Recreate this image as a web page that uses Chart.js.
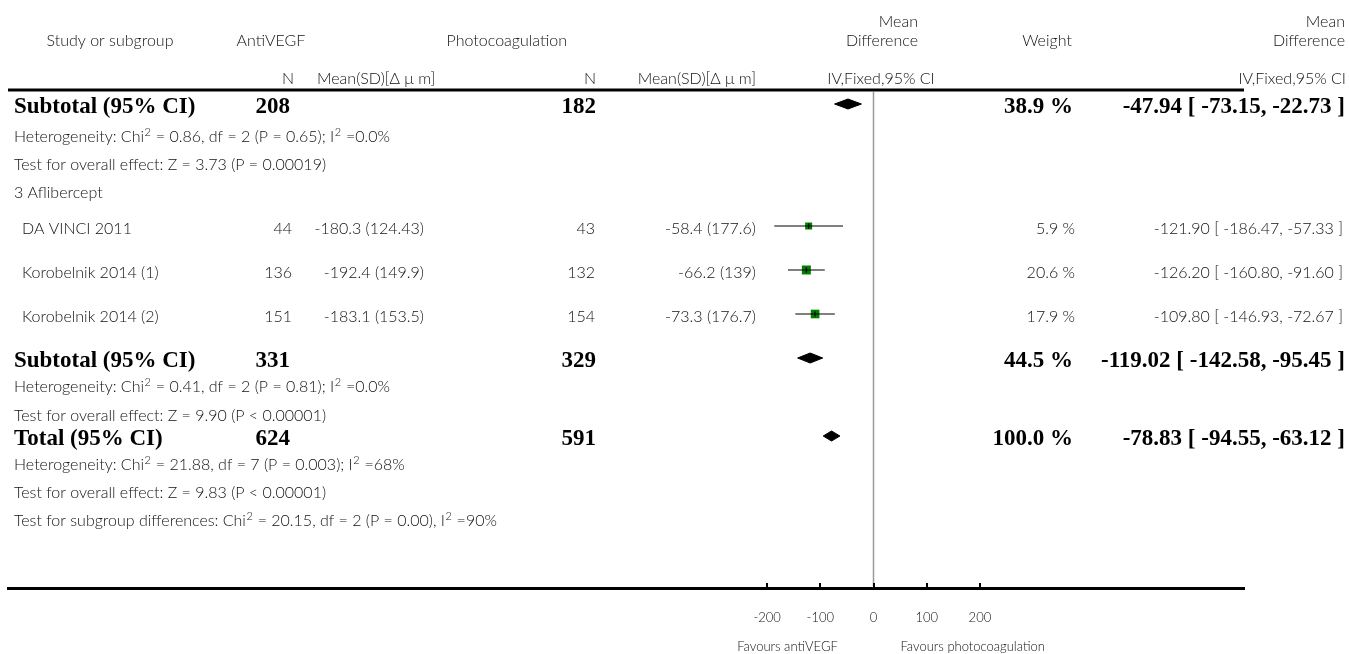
<!DOCTYPE html>
<html>
<head>
<meta charset="utf-8">
<script src="https://cdn.jsdelivr.net/npm/chart.js@4"></script>
<style>
  html, body { margin: 0; padding: 0; background: #fff; }
  canvas { display: block; }
</style>
</head>
<body>
<canvas id="forest" width="1349" height="654"></canvas>
<script>
// ---------- data ----------
const studyNames   = ['DA VINCI 2011', 'Korobelnik 2014 (1)', 'Korobelnik 2014 (2)'];
const antiN        = [44, 136, 151];
const antiMean     = [-180.3, -192.4, -183.1];
const antiSD       = [124.43, 149.9, 153.5];
const photoN       = [43, 132, 154];
const photoMean    = [-58.4, -66.2, -73.3];
const photoSD      = [177.6, 139, 176.7];
const studyWeight  = [5.9, 20.6, 17.9];
const studyMD      = [-121.90, -126.20, -109.80];
const studyLow     = [-186.47, -160.80, -146.93];
const studyHigh    = [-57.33, -91.60, -72.67];

const summaryLabels = ['Subtotal (95% CI)', 'Subtotal (95% CI)', 'Total (95% CI)'];
const summaryAntiN  = [208, 331, 624];
const summaryPhotoN = [182, 329, 591];
const summaryWeight = [38.9, 44.5, 100.0];
const summaryMD     = [-47.94, -119.02, -78.83];
const summaryLow    = [-73.15, -142.58, -94.55];
const summaryHigh   = [-22.73, -95.45, -63.12];

// "^2" marks a superscript two
const noteLines = [
  'Heterogeneity: Chi^2 = 0.86, df = 2 (P = 0.65); I^2 =0.0%',
  'Test for overall effect: Z = 3.73 (P = 0.00019)',
  '3 Aflibercept',
  'Heterogeneity: Chi^2 = 0.41, df = 2 (P = 0.81); I^2 =0.0%',
  'Test for overall effect: Z = 9.90 (P < 0.00001)',
  'Heterogeneity: Chi^2 = 21.88, df = 7 (P = 0.003); I^2 =68%',
  'Test for overall effect: Z = 9.83 (P < 0.00001)',
  'Test for subgroup differences: Chi^2 = 20.15, df = 2 (P = 0.00), I^2 =90%'
];
const axisTicks = [-200, -100, 0, 100, 200];
const favourLabels = ['Favours antiVEGF', 'Favours photocoagulation'];

// ---------- layout ----------
const AREA = { left: 8, right: 1244, top: 90, bottom: 588 };
const ZERO_PX = 873.5;          // where 0 sits on the x axis
const PX_PER_UNIT = 0.532;      // axis scale
const X_MIN = (AREA.left - ZERO_PX) / PX_PER_UNIT;
const X_MAX = (AREA.right - ZERO_PX) / PX_PER_UNIT;
const Y_SPAN = AREA.bottom - AREA.top;   // y unit = one pixel below the top rule

// row slots (units below the top rule)
const summaryRows = [14, 268, 346];
const studyRows   = [136, 180, 224];
const noteRows    = [47, 75, 103, 297, 326, 375, 403, 431];
const DIAMOND_HALF = 5;

const SANS = '300 16px Lato';
const SUP = '300 11px Lato';
const AXIS_FONT = '300 13px Lato';
const BOLD = 'bold 23px "Liberation Serif"';
const TXT = '#111';

// square side grows with study weight; Chart.js 'rect' side = radius * sqrt(2)
const squareRadius = w => (6.2 + 0.136 * w) / Math.SQRT2;

// ---------- datasets ----------
const datasets = [];
// centre ticks on squares (top-most)
datasets.push({
  type: 'scatter', order: 0,
  data: studyMD.map((v, i) => ({ x: v, y: studyRows[i] })),
  pointStyle: 'line', rotation: 90, pointRadius: 2.5,
  borderColor: '#000', borderWidth: 1.2, backgroundColor: '#000'
});
// confidence interval lines
studyMD.forEach((v, i) => {
  datasets.push({
    type: 'line', order: 1,
    data: [{ x: studyLow[i], y: studyRows[i] }, { x: studyHigh[i], y: studyRows[i] }],
    borderColor: '#000', borderWidth: 1.2, pointRadius: 0, fill: false
  });
});
// weight squares
datasets.push({
  type: 'scatter', order: 2,
  data: studyMD.map((v, i) => ({ x: v, y: studyRows[i] })),
  pointStyle: 'rect',
  pointRadius: studyWeight.map(squareRadius),
  backgroundColor: '#008000', borderColor: '#008000', borderWidth: 0
});
// pooled diamonds
summaryMD.forEach((v, i) => {
  const r = summaryRows[i];
  datasets.push({
    type: 'line', order: 3,
    data: [
      { x: summaryLow[i], y: r }, { x: v, y: r - DIAMOND_HALF },
      { x: summaryHigh[i], y: r }, { x: v, y: r + DIAMOND_HALF },
      { x: summaryLow[i], y: r }
    ],
    borderColor: '#000', borderWidth: 1, backgroundColor: '#000',
    pointRadius: 0, fill: 'shape', tension: 0
  });
});

// ---------- text, rules and axis decorations ----------
function txt(ctx, s, x, y, align, font, color) {
  ctx.font = font; ctx.fillStyle = color || TXT;
  ctx.textAlign = align; ctx.textBaseline = 'middle';
  ctx.fillText(s, x, y);
}
// left-aligned text with raised "2" wherever "^2" appears
function txtSup(ctx, s, x, y) {
  ctx.fillStyle = TXT; ctx.textAlign = 'left'; ctx.textBaseline = 'middle';
  s.split('^2').forEach((part, k) => {
    if (k > 0) {
      ctx.font = SUP;
      ctx.fillText('2', x + 0.5, y - 5);
      x += ctx.measureText('2').width + 1;
    }
    ctx.font = SANS;
    ctx.fillText(part, x, y);
    x += ctx.measureText(part).width;
  });
}
const fmtCI = (m, lo, hi) => m.toFixed(2) + ' [ ' + lo.toFixed(2) + ', ' + hi.toFixed(2) + ' ]';

const forestDecor = {
  id: 'forestDecor',
  beforeDatasetsDraw(chart) {
    const { ctx, chartArea, scales: { x } } = chart;
    const zx = x.getPixelForValue(0);
    ctx.save();
    ctx.strokeStyle = '#9a9a9a'; ctx.lineWidth = 1.5;
    ctx.beginPath(); ctx.moveTo(zx, chartArea.top + 2); ctx.lineTo(zx, chartArea.bottom); ctx.stroke();
    ctx.restore();
  },
  afterDraw(chart) {
    const { ctx, chartArea, scales: { x, y } } = chart;
    const Y = v => y.getPixelForValue(v);
    ctx.save();
    // top rule
    ctx.fillStyle = '#000';
    ctx.fillRect(chartArea.left, chartArea.top - 1.5, chartArea.right - chartArea.left, 3);
    // tick marks pointing up from the axis
    x.ticks.forEach(t => {
      const px = Math.round(x.getPixelForValue(t.value));
      ctx.fillRect(px - 1, chartArea.bottom - 5, 2, 5);
    });
    // favours labels
    const zx = x.getPixelForValue(0);
    txt(ctx, favourLabels[0], zx - 86, 647, 'center', AXIS_FONT);
    txt(ctx, favourLabels[1], zx + 27, 647, 'left', AXIS_FONT);

    // headers
    txt(ctx, 'Study or subgroup', 110, 41, 'center', SANS);
    txt(ctx, 'AntiVEGF', 271, 41, 'center', SANS);
    txt(ctx, 'Photocoagulation', 567, 41, 'right', SANS);
    txt(ctx, 'Mean', 918, 22, 'right', SANS);
    txt(ctx, 'Difference', 918, 41, 'right', SANS);
    txt(ctx, 'Weight', 1047, 41, 'center', SANS);
    txt(ctx, 'Mean', 1345, 22, 'right', SANS);
    txt(ctx, 'Difference', 1345, 41, 'right', SANS);
    txt(ctx, 'N', 294, 79, 'right', SANS);
    txt(ctx, 'Mean(SD)[\u0394 \u03BC m]', 317, 79, 'left', SANS);
    txt(ctx, 'N', 596, 79, 'right', SANS);
    txt(ctx, 'Mean(SD)[\u0394 \u03BC m]', 756, 79, 'right', SANS);
    txt(ctx, 'IV,Fixed,95% CI', 881, 79, 'center', SANS);
    txt(ctx, 'IV,Fixed,95% CI', 1346, 79, 'right', SANS);

    // summary rows
    summaryLabels.forEach((lab, i) => {
      const ry = Y(summaryRows[i]) + 3;
      txt(ctx, lab, 14, ry, 'left', BOLD, '#000');
      txt(ctx, String(summaryAntiN[i]), 290, ry, 'right', BOLD, '#000');
      txt(ctx, String(summaryPhotoN[i]), 596, ry, 'right', BOLD, '#000');
      txt(ctx, summaryWeight[i].toFixed(1) + ' %', 1073, ry, 'right', BOLD, '#000');
      txt(ctx, fmtCI(summaryMD[i], summaryLow[i], summaryHigh[i]), 1345, ry, 'right', BOLD, '#000');
    });
    // study rows
    studyNames.forEach((name, i) => {
      const ry = Y(studyRows[i]) + 3;
      txt(ctx, name, 22, ry, 'left', SANS);
      txt(ctx, String(antiN[i]), 292, ry, 'right', SANS);
      txt(ctx, antiMean[i] + ' (' + antiSD[i] + ')', 424, ry, 'right', SANS);
      txt(ctx, String(photoN[i]), 595, ry, 'right', SANS);
      txt(ctx, photoMean[i] + ' (' + photoSD[i] + ')', 756, ry, 'right', SANS);
      txt(ctx, studyWeight[i].toFixed(1) + ' %', 1075, ry, 'right', SANS);
      txt(ctx, fmtCI(studyMD[i], studyLow[i], studyHigh[i]), 1343, ry, 'right', SANS);
    });
    // notes
    noteLines.forEach((s, i) => txtSup(ctx, s, 14, Y(noteRows[i])));
    ctx.restore();
  }
};

new Chart(document.getElementById('forest'), {
  type: 'scatter',
  data: { datasets },
  plugins: [forestDecor],
  options: {
    responsive: false,
    devicePixelRatio: 1,
    animation: false,
    events: [],
    layout: { padding: { left: AREA.left, right: 1349 - AREA.right, top: AREA.top, bottom: 0 } },
    plugins: { legend: { display: false }, tooltip: { enabled: false } },
    scales: {
      x: {
        type: 'linear', position: 'bottom', min: X_MIN, max: X_MAX,
        afterBuildTicks: s => { s.ticks = axisTicks.map(v => ({ value: v })); },
        afterFit: s => { s.height = 654 - AREA.bottom; },
        grid: { display: true, drawOnChartArea: false, drawTicks: false },
        border: { display: true, color: '#000', width: 3 },
        ticks: {
          padding: 22, color: TXT, maxRotation: 0, autoSkip: false,
          font: { family: 'Lato', size: 13, weight: '300' },
          callback: v => String(v)
        }
      },
      y: {
        type: 'linear', display: false, reverse: true, min: 0, max: Y_SPAN
      }
    }
  }
});
</script>
</body>
</html>
